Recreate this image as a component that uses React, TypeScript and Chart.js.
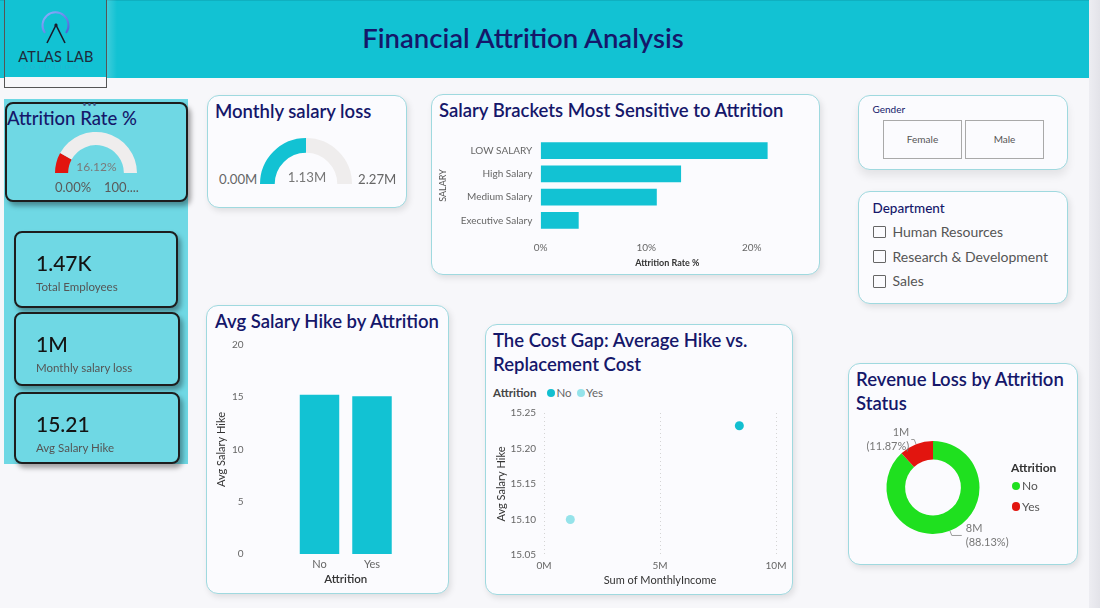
import React, { useEffect, useRef } from 'react';
import { Chart, registerables } from 'chart.js';

Chart.register(...registerables);

// ---- data ----
const attritionRatePct = 16.12;
const attritionRateMax = 100;

const attritionGroups = ['No', 'Yes'];
const avgSalaryHike = [15.232, 15.1];
const monthlyIncomeSum = [8.42e6, 1.134e6];

const salaryBrackets = ['LOW SALARY', 'High Salary', 'Medium Salary', 'Executive Salary'];
const bracketAttritionRate = [21.5, 13.3, 11.0, 3.6];

const kpiValues = ['1.47K', '1M', '15.21'];
const kpiLabels = ['Total Employees', 'Monthly salary loss', 'Avg Salary Hike'];

const genderOptions = ['Female', 'Male'];
const departmentOptions = ['Human Resources', 'Research & Development', 'Sales'];

// ---- styling constants ----
const FONT = "Lato, 'Open Sans', sans-serif";
const NAVY = '#15176a';
const TEAL = '#12c2d3';
const PANEL = '#6fd8e4';
const GAUGE_BG = '#efeded';
const RED = '#e2150f';
const GREEN = '#1fe01f';
const scatterColors = ['#12bfd0', '#95e3ea'];
const TITLE_SIZE = 18.5;

const salaryLoss = monthlyIncomeSum[1];
const salaryLossMax = salaryLoss * 2;
const incomeTotal = monthlyIncomeSum.reduce((a, b) => a + b, 0);
const revenueShare = monthlyIncomeSum.map((v) => (v / incomeTotal) * 100);

// ---- helpers ----
type TProps = {
  x: number;
  y: number;
  size: number;
  color?: string;
  weight?: number;
  align?: 'left' | 'center' | 'right';
  children: React.ReactNode;
  style?: React.CSSProperties;
};

const T = ({ x, y, size, color = '#333', weight = 400, align = 'left', children, style }: TProps) => (
  <div
    style={{
      position: 'absolute',
      left: x,
      top: y,
      transform: `translate(${align === 'center' ? '-50%' : align === 'right' ? '-100%' : '0'}, -50%)`,
      fontFamily: FONT,
      fontSize: size,
      fontWeight: weight,
      color,
      whiteSpace: 'nowrap',
      lineHeight: 1.15,
      ...style,
    }}
  >
    {children}
  </div>
);

const Card = ({ x, y, w, h, style }: { x: number; y: number; w: number; h: number; style?: React.CSSProperties }) => (
  <div
    style={{
      position: 'absolute',
      left: x,
      top: y,
      width: w,
      height: h,
      boxSizing: 'border-box',
      background: '#fbfbfe',
      border: '1px solid #9fd9df',
      borderRadius: 12,
      boxShadow: '2px 3px 6px rgba(0,0,0,0.10)',
      ...style,
    }}
  />
);

const KpiCard = ({ x, y, w, h }: { x: number; y: number; w: number; h: number }) => (
  <div
    style={{
      position: 'absolute',
      left: x,
      top: y,
      width: w,
      height: h,
      boxSizing: 'border-box',
      background: PANEL,
      border: '2px solid #1d1d1d',
      borderRadius: 8,
      boxShadow: '3px 4px 5px rgba(0,0,0,0.35)',
    }}
  />
);

function ChartCanvas({ left, top, width, height, config }: { left: number; top: number; width: number; height: number; config: () => any }) {
  const ref = useRef<HTMLCanvasElement>(null);
  useEffect(() => {
    const chart = new Chart(ref.current as HTMLCanvasElement, config());
    return () => chart.destroy();
  }, []);
  return <canvas ref={ref} width={width} height={height} style={{ position: 'absolute', left, top, width, height }} />;
}

const noPlugins = () => ({ legend: { display: false }, tooltip: { enabled: false } });

// Pin an axis to a fixed thickness and drop the label overhang padding,
// so the plot area lands exactly where the layout padding puts it.
const fixedAxis = (size: number) => (s: any) => {
  if (s.isHorizontal()) s.height = size;
  else s.width = size;
  s.paddingTop = 0;
  s.paddingBottom = 0;
  s.paddingLeft = 0;
  s.paddingRight = 0;
};

const gaugeConfig = (value: number, max: number, color: string) => () => ({
  type: 'doughnut',
  data: {
    datasets: [{ data: [value, max - value], backgroundColor: [color, GAUGE_BG], borderWidth: 0 }],
  },
  options: {
    animation: false,
    responsive: false,
    events: [],
    rotation: -90,
    circumference: 180,
    cutout: '68%',
    layout: { padding: 0 },
    plugins: noPlugins(),
  },
});

const salaryBarConfig = () => ({
  type: 'bar',
  data: {
    labels: salaryBrackets,
    datasets: [
      { data: bracketAttritionRate, backgroundColor: TEAL, borderWidth: 0, categoryPercentage: 1, barPercentage: 0.72 },
    ],
  },
  options: {
    indexAxis: 'y',
    animation: false,
    responsive: false,
    events: [],
    layout: { autoPadding: false, padding: { left: 0, top: 6, right: 14, bottom: 2 } },
    plugins: noPlugins(),
    scales: {
      x: {
        min: 0,
        max: 24,
        grid: { display: false, drawTicks: false },
        border: { display: false },
        afterBuildTicks: (s: any) => {
          s.ticks = s.ticks.filter((t: any) => t.value % 10 === 0);
        },
        ticks: { stepSize: 10, padding: 10, color: '#666', font: { family: FONT, size: 10 }, callback: (v: any) => v + '%' },
        title: { display: true, text: 'Attrition Rate %', color: '#333', font: { family: FONT, size: 9, weight: 'bold' }, padding: 0 },
        afterFit: fixedAxis(36),
      },
      y: {
        grid: { display: false, drawTicks: false },
        border: { display: false },
        ticks: { padding: 8.4, color: '#666', font: { family: FONT, size: 10 } },
        title: { display: true, text: 'SALARY', color: '#555', font: { family: FONT, size: 9 }, padding: 2 },
        afterFit: fixedAxis(104.7),
      },
    },
  },
});

const hikeBarConfig = () => ({
  type: 'bar',
  data: {
    labels: attritionGroups,
    datasets: [{ data: avgSalaryHike, backgroundColor: TEAL, borderWidth: 0, categoryPercentage: 1, barPercentage: 0.752 }],
  },
  options: {
    animation: false,
    responsive: false,
    events: [],
    layout: { autoPadding: false, padding: { left: 0, top: 10, right: 43.75, bottom: 2 } },
    plugins: noPlugins(),
    scales: {
      x: {
        grid: { display: false, drawTicks: false },
        border: { display: false },
        ticks: { padding: 4, color: '#666', font: { family: FONT, size: 11 } },
        title: { display: true, text: 'Attrition', color: '#333', font: { family: FONT, size: 11.5, weight: 600 }, padding: 2 },
        afterFit: fixedAxis(34),
      },
      y: {
        min: 0,
        max: 20,
        grid: { display: false, drawTicks: false },
        border: { display: false },
        ticks: { stepSize: 5, padding: 49.75, color: '#666', font: { family: FONT, size: 10 } },
        title: { display: true, text: 'Avg Salary Hike', color: '#333', font: { family: FONT, size: 11 }, padding: 3.1 },
        afterFit: fixedAxis(81.25),
      },
    },
  },
});

const scatterConfig = () => ({
  type: 'scatter',
  data: {
    datasets: attritionGroups.map((g, i) => ({
      label: g,
      data: [{ x: monthlyIncomeSum[i], y: avgSalaryHike[i] }],
      backgroundColor: scatterColors[i],
      pointRadius: 4.5,
      pointBorderWidth: 0,
    })),
  },
  options: {
    animation: false,
    responsive: false,
    events: [],
    layout: { autoPadding: false, padding: { left: 0, top: 10, right: 14, bottom: 2 } },
    plugins: noPlugins(),
    scales: {
      x: {
        type: 'linear',
        min: 0,
        max: 1e7,
        grid: { color: '#d4d4d4', drawTicks: false, lineWidth: 1 },
        border: { display: false, dash: [1, 3] },
        ticks: { stepSize: 5e6, padding: 5.2, color: '#666', font: { family: FONT, size: 10 }, callback: (v: any) => v / 1e6 + 'M' },
        title: { display: true, text: 'Sum of MonthlyIncome', color: '#333', font: { family: FONT, size: 11 }, padding: 2 },
        afterFit: fixedAxis(34),
      },
      y: {
        min: 15.05,
        max: 15.25,
        grid: { display: false, drawTicks: false },
        border: { display: false },
        ticks: { stepSize: 0.05, padding: 8, color: '#666', font: { family: FONT, size: 10 }, callback: (v: any) => Number(v).toFixed(2) },
        title: { display: true, text: 'Avg Salary Hike', color: '#333', font: { family: FONT, size: 11 }, padding: 4.4 },
        afterFit: fixedAxis(54),
      },
    },
  },
});

// Leader-line labels ("8M (88.13%)") around each donut slice
const sliceLabelPlugin = {
  id: 'sliceLabels',
  afterDatasetsDraw(chart: any) {
    const ctx = chart.ctx as CanvasRenderingContext2D;
    const meta = chart.getDatasetMeta(0);
    meta.data.forEach((arc: any, i: number) => {
      const { x, y, startAngle, endAngle, outerRadius } = arc.getProps(['x', 'y', 'startAngle', 'endAngle', 'outerRadius'], true);
      const mid = (startAngle + endAngle) / 2;
      const cos = Math.cos(mid);
      const sin = Math.sin(mid);
      const right = cos >= 0;
      const p0 = [x + cos * outerRadius, y + sin * outerRadius];
      const p1 = [x + cos * (outerRadius + 5), y + sin * (outerRadius + 5)];
      const p2 = [p1[0] + (right ? 10 : -3), p1[1]];
      ctx.save();
      ctx.strokeStyle = '#9a9a9a';
      ctx.lineWidth = 1;
      ctx.beginPath();
      ctx.moveTo(p0[0], p0[1]);
      ctx.lineTo(p1[0], p1[1]);
      ctx.lineTo(p2[0], p2[1]);
      ctx.stroke();
      ctx.font = `11px ${FONT}`;
      ctx.fillStyle = '#777';
      ctx.textBaseline = 'middle';
      ctx.textAlign = right ? 'left' : 'right';
      const lines = [Math.round(monthlyIncomeSum[i] / 1e6) + 'M', `(${revenueShare[i].toFixed(2)}%)`];
      const lh = 14;
      lines.forEach((l, k) => {
        const ly = p2[1] + (k - (lines.length - 1) / 2) * lh;
        ctx.fillText(l, p2[0] + (right ? 4 : -2), ly);
      });
      ctx.restore();
    });
  },
};

const donutConfig = () => ({
  type: 'doughnut',
  data: {
    labels: attritionGroups,
    datasets: [{ data: revenueShare, backgroundColor: [GREEN, RED], borderWidth: 0 }],
  },
  options: {
    animation: false,
    responsive: false,
    events: [],
    cutout: '60%',
    layout: { padding: { left: 31.5, right: 35.5, top: 23, bottom: 24 } },
    plugins: noPlugins(),
  },
  plugins: [sliceLabelPlugin],
});

const Dot = ({ x, y, r, color }: { x: number; y: number; r: number; color: string }) => (
  <div
    style={{
      position: 'absolute',
      left: x - r,
      top: y - r,
      width: r * 2,
      height: r * 2,
      borderRadius: '50%',
      background: color,
    }}
  />
);

export default function App() {
  return (
    <div
      style={{
        position: 'fixed',
        left: 0,
        top: 0,
        width: 1100,
        height: 608,
        overflow: 'hidden',
        background: '#f7f7fa',
        fontFamily: FONT,
      }}
    >
      {/* right page edge */}
      <div style={{ position: 'absolute', left: 1089, top: 0, width: 11, height: 608, background: 'linear-gradient(to right, #ededf2, #e3e3e9)' }} />

      {/* header */}
      <div style={{ position: 'absolute', left: 0, top: 0, width: 1089, height: 78, background: TEAL, borderTop: '1px solid #0fb0c0', boxSizing: 'border-box' }} />
      <div style={{ position: 'absolute', left: 107, top: 0, width: 10, height: 78, background: 'linear-gradient(to right, rgba(255,255,255,0.18), rgba(255,255,255,0))' }} />
      <div
        style={{
          position: 'absolute',
          left: 4,
          top: 0,
          width: 103,
          height: 88,
          boxSizing: 'border-box',
          border: '1px solid #555',
          borderTop: 'none',
          background: `linear-gradient(to bottom, ${TEAL} 0px, ${TEAL} 77px, #f7f7fa 77px)`,
        }}
      />
      <svg style={{ position: 'absolute', left: 0, top: 0 }} width={110} height={80}>
        <defs>
          <linearGradient id="ring" x1="0" y1="0" x2="1" y2="1">
            <stop offset="0" stopColor="#8fb4ff" />
            <stop offset="1" stopColor="#4a62d8" />
          </linearGradient>
        </defs>
        <path d="M 45 33 A 13 13 0 1 1 66 33" fill="none" stroke="url(#ring)" strokeWidth={2} />
        <path d="M 47 43 L 56 25 L 65 43" fill="none" stroke="#1b1b2b" strokeWidth={1.6} />
        <circle cx={56} cy={25} r={1.6} fill="#1b1b2b" />
      </svg>
      <T x={56} y={56.5} size={14.5} color="#1f2a3a" align="center" style={{ letterSpacing: 0.3 }}>
        ATLAS LAB
      </T>
      <T x={56} y={66.5} size={6.5} color="#4f9fd2" align="center" style={{ letterSpacing: 3.2, opacity: 0.45 }}>
        SOLUTIONS
      </T>
      <T x={523} y={37.5} size={27.5} color={NAVY} weight={600} align="center">
        Financial Attrition Analysis
      </T>

      {/* left KPI panel */}
      <div style={{ position: 'absolute', left: 4, top: 99, width: 184, height: 365, background: PANEL }} />
      <KpiCard x={5} y={102} w={183} h={100} />
      <T x={90} y={103.5} size={7} color="#3b5f8f" align="center" style={{ letterSpacing: 1 }}>
        •••
      </T>
      <T x={7} y={118.5} size={18.5} color={NAVY} weight={500}>
        Attrition Rate %
      </T>
      <ChartCanvas left={55} top={132} width={82} height={41} config={gaugeConfig(attritionRatePct, attritionRateMax, RED)} />
      <T x={96.5} y={166.5} size={12} color="#7a7a7a" align="center">
        {attritionRatePct.toFixed(2)}%
      </T>
      <T x={55} y={186.5} size={13} color="#5a5a5a">
        0.00%
      </T>
      <T x={104} y={186.5} size={13} color="#5a5a5a">
        {String(attritionRateMax)}....
      </T>

      {[
        [14, 231, 164, 77],
        [14, 312, 166, 74],
        [14, 392, 166, 72],
      ].map(([x, y, w, h], i) => (
        <React.Fragment key={i}>
          <KpiCard x={x} y={y} w={w} h={h} />
          <T x={36} y={y + 31.5} size={21} color="#141414" weight={500}>
            {kpiValues[i]}
          </T>
          <T x={36} y={y + 55.5} size={11.5} color="#555">
            {kpiLabels[i]}
          </T>
        </React.Fragment>
      ))}

      {/* Monthly salary loss gauge */}
      <Card x={207} y={95} w={200} h={113} />
      <T x={215} y={112} size={TITLE_SIZE} color={NAVY} weight={600}>
        Monthly salary loss
      </T>
      <ChartCanvas left={260} top={138} width={92} height={46} config={gaugeConfig(salaryLoss, salaryLossMax, TEAL)} />
      <T x={219} y={180} size={13.2} color="#666">
        0.00M
      </T>
      <T x={307} y={177.5} size={13.2} color="#777" align="center">
        {(salaryLoss / 1e6).toFixed(2)}M
      </T>
      <T x={358} y={180} size={13.2} color="#666">
        {(salaryLossMax / 1e6).toFixed(2)}M
      </T>

      {/* Salary brackets */}
      <Card x={431} y={94} w={389} h={181} />
      <T x={439} y={110.5} size={TITLE_SIZE} color={NAVY} weight={600}>
        Salary Brackets Most Sensitive to Attrition
      </T>
      <ChartCanvas left={436} top={133} width={372} height={137} config={salaryBarConfig} />

      {/* Gender slicer */}
      <Card x={858} y={95} w={210} h={75} style={{ boxShadow: '0 6px 8px rgba(0,0,0,0.08)' }} />
      <T x={872.5} y={110} size={10} color={NAVY}>
        Gender
      </T>
      {genderOptions.map((g, i) => (
        <React.Fragment key={g}>
          <div
            style={{
              position: 'absolute',
              left: i === 0 ? 883 : 965,
              top: 120,
              width: 79,
              height: 39,
              boxSizing: 'border-box',
              border: '1px solid #a9a9a9',
              background: '#fbfbfe',
            }}
          />
          <T x={(i === 0 ? 883 : 965) + 39.5} y={140} size={10} color="#555" align="center">
            {g}
          </T>
        </React.Fragment>
      ))}

      {/* Department slicer */}
      <Card x={858} y={191} w={210} h={113} />
      <T x={872.5} y={209} size={13.5} color={NAVY} weight={500}>
        Department
      </T>
      {departmentOptions.map((d, i) => (
        <React.Fragment key={d}>
          <div
            style={{
              position: 'absolute',
              left: 873,
              top: 225.5 + i * 24.8,
              width: 12.5,
              height: 12.5,
              boxSizing: 'border-box',
              border: '1px solid #666',
              borderRadius: 1,
            }}
          />
          <T x={892.5} y={231.7 + i * 24.8} size={14} color="#555">
            {d}
          </T>
        </React.Fragment>
      ))}

      {/* Avg Salary Hike by Attrition */}
      <Card x={206} y={305} w={243} h={289} />
      <T x={215} y={322} size={TITLE_SIZE} color={NAVY} weight={600}>
        Avg Salary Hike by Attrition
      </T>
      <ChartCanvas left={212} top={335} width={230} height={255} config={hikeBarConfig} />

      {/* Cost gap scatter */}
      <Card x={485} y={324} w={308} h={271} />
      <T x={493} y={341} size={TITLE_SIZE} color={NAVY} weight={600}>
        The Cost Gap: Average Hike vs.
      </T>
      <T x={493} y={364.5} size={TITLE_SIZE} color={NAVY} weight={600}>
        Replacement Cost
      </T>
      <T x={493} y={393} size={11.5} color="#444" weight={700}>
        Attrition
      </T>
      <Dot x={550.5} y={393} r={4} color={scatterColors[0]} />
      <T x={556.5} y={393} size={11.5} color="#666">
        {attritionGroups[0]}
      </T>
      <Dot x={580.5} y={393} r={4} color={scatterColors[1]} />
      <T x={586} y={393} size={11.5} color="#666">
        {attritionGroups[1]}
      </T>
      <ChartCanvas left={490} top={403} width={300} height={188} config={scatterConfig} />

      {/* Revenue loss donut */}
      <Card x={848} y={363} w={230} h={202} />
      <T x={856} y={380} size={TITLE_SIZE} color={NAVY} weight={600}>
        Revenue Loss by Attrition
      </T>
      <T x={856} y={403.5} size={TITLE_SIZE} color={NAVY} weight={600}>
        Status
      </T>
      <ChartCanvas left={855} top={418} width={160} height={140} config={donutConfig} />
      <T x={1011} y={467.5} size={12} color="#333" weight={700}>
        Attrition
      </T>
      <Dot x={1016} y={486} r={4.2} color={GREEN} />
      <T x={1022} y={486} size={12} color="#555">
        {attritionGroups[0]}
      </T>
      <Dot x={1016} y={506.5} r={4.2} color={RED} />
      <T x={1022} y={506.5} size={12} color="#555">
        {attritionGroups[1]}
      </T>
    </div>
  );
}
